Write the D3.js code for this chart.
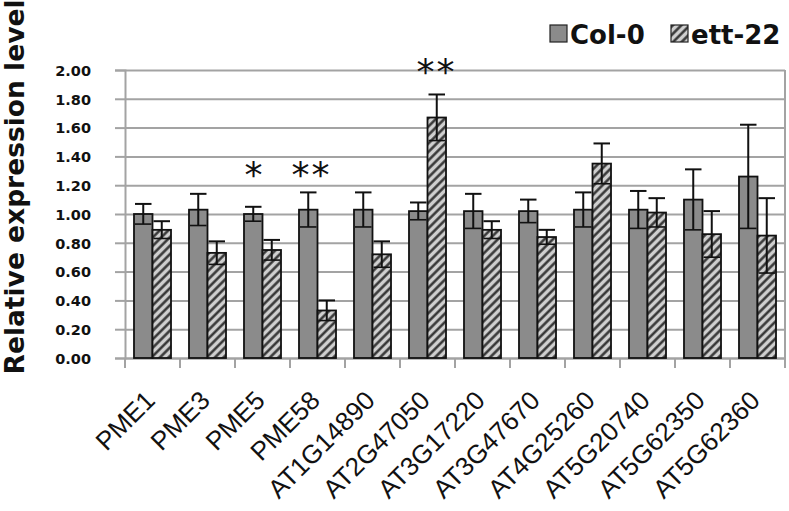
<!DOCTYPE html>
<html>
<head>
<meta charset="utf-8">
<script src="https://cdn.jsdelivr.net/npm/d3@7"></script>
<style>
  html, body { margin: 0; padding: 0; background: #fff; }
  svg { display: block; }
</style>
</head>
<body>
<div id="chart"></div>
<script>
// ---- data ----
const categories = ["PME1","PME3","PME5","PME58","AT1G14890","AT2G47050","AT3G17220","AT3G47670","AT4G25260","AT5G20740","AT5G62350","AT5G62360"];
const seriesNames = ["Col-0","ett-22"];
const col0Values = [1.00,1.03,1.00,1.03,1.03,1.02,1.02,1.02,1.03,1.03,1.10,1.26];
const col0Errors = [0.07,0.11,0.05,0.12,0.12,0.06,0.12,0.08,0.12,0.13,0.21,0.36];
const ett22Values = [0.89,0.73,0.75,0.33,0.72,1.67,0.89,0.84,1.35,1.01,0.86,0.85];
const ett22Errors = [0.06,0.08,0.07,0.07,0.09,0.16,0.06,0.05,0.14,0.10,0.16,0.26];
const yTicks = [0,0.2,0.4,0.6,0.8,1.0,1.2,1.4,1.6,1.8,2.0];
const sigCategories = ["PME5","PME58","AT2G47050"];
const sigMarks = ["*","**","**"];
const sigLevels = [1.33,1.33,2.05];
const yTitle = "Relative expression level";

// ---- layout ----
(function () {
const W = 789, H = 511;
const pLeft = 125, pRight = 785, pTop = 70, pBottom = 358;
const gridColor = "#a3a3a3";

const svg = d3.select("#chart").append("svg").attr("width", W).attr("height", H);

const defs = svg.append("defs");
const pat = defs.append("pattern").attr("id","hatch")
  .attr("patternUnits","userSpaceOnUse").attr("width",6).attr("height",6)
  .attr("patternTransform","rotate(45)");
pat.append("rect").attr("width",6).attr("height",6).attr("fill","#cfcfcf");
pat.append("line").attr("x1",1.5).attr("y1",0).attr("x2",1.5).attr("y2",6)
  .attr("stroke","#2e2e2e").attr("stroke-width",2.4);

const y = d3.scaleLinear().domain([0,2]).range([pBottom, pTop]);
const x0 = d3.scaleBand().domain(categories).range([pLeft, pRight]).paddingInner(0).paddingOuter(0);
const x1 = d3.scaleBand().domain(seriesNames).range([0, x0.bandwidth()]).paddingInner(0).paddingOuter(0.486);

// gridlines + y ticks
const yAxis = d3.axisLeft(y).tickValues(yTicks).tickSize(10).tickFormat(d3.format(".2f"));
const gAxis = svg.append("g").attr("transform", `translate(${pLeft},0)`).call(yAxis);
gAxis.select(".domain").attr("stroke", gridColor).attr("stroke-width", 2);
gAxis.selectAll(".tick line").attr("stroke", gridColor).attr("stroke-width", 2)
  .attr("x1", 0).attr("x2", -10);
gAxis.selectAll(".tick").append("line")
  .attr("x1", 0).attr("x2", pRight - pLeft).attr("stroke", gridColor).attr("stroke-width", 2);
gAxis.selectAll(".tick text")
  .attr("x", -34).attr("dy","0.36em")
  .style("font-family","'DejaVu Sans', sans-serif").style("font-weight","bold").style("font-size","14.5px")
  .attr("fill","#111");

// right border
svg.append("line").attr("x1", pRight).attr("x2", pRight).attr("y1", pTop).attr("y2", pBottom)
  .attr("stroke", gridColor).attr("stroke-width", 2);

// x axis ticks at band boundaries
const xAxis = d3.axisBottom(x0).tickSize(0).tickFormat("");
const gx = svg.append("g").attr("transform", `translate(0,${pBottom})`).call(xAxis);
gx.select(".domain").attr("stroke", gridColor).attr("stroke-width", 2);
const boundaries = categories.map(c => x0(c)).concat([x0(categories[categories.length-1]) + x0.bandwidth()]);
gx.selectAll(".bnd").data(boundaries).enter().append("line")
  .attr("x1", d => d).attr("x2", d => d).attr("y1", 0).attr("y2", 10)
  .attr("stroke", gridColor).attr("stroke-width", 2);

// bars
const rows = categories.map((c,i) => ({
  cat: c,
  vals: [
    {s: "Col-0", v: col0Values[i], e: col0Errors[i]},
    {s: "ett-22", v: ett22Values[i], e: ett22Errors[i]}
  ]
}));
const bw = x1.bandwidth();
const groups = svg.append("g").selectAll("g").data(rows).enter().append("g")
  .attr("transform", d => `translate(${x0(d.cat)},0)`);
const bars = groups.selectAll("g.b").data(d => d.vals).enter().append("g").attr("class","b");
bars.append("rect")
  .attr("x", d => x1(d.s)).attr("width", bw)
  .attr("y", d => y(d.v)).attr("height", d => y(0) - y(d.v))
  .attr("fill", d => d.s === "Col-0" ? "#8b8b8b" : "url(#hatch)")
  .attr("stroke", "#111").attr("stroke-width", 1.8);
// error bars
bars.append("line")
  .attr("x1", d => x1(d.s) + bw/2).attr("x2", d => x1(d.s) + bw/2)
  .attr("y1", d => y(d.v - d.e)).attr("y2", d => y(d.v + d.e))
  .attr("stroke", "#111").attr("stroke-width", 2);
bars.append("line")
  .attr("x1", d => x1(d.s) + 1).attr("x2", d => x1(d.s) + bw - 1)
  .attr("y1", d => y(d.v + d.e)).attr("y2", d => y(d.v + d.e))
  .attr("stroke", "#111").attr("stroke-width", 2);
bars.append("line")
  .attr("x1", d => x1(d.s) + 1).attr("x2", d => x1(d.s) + bw - 1)
  .attr("y1", d => y(d.v - d.e)).attr("y2", d => y(d.v - d.e))
  .attr("stroke", "#111").attr("stroke-width", 1.6);

// significance marks
const sigDx = [-9, -6, 9];
svg.append("g").selectAll("text").data(sigCategories).enter().append("text")
  .attr("x", (d,i) => x0(d) + x0.bandwidth()/2 + sigDx[i])
  .attr("y", (d,i) => y(sigLevels[i]) + 21)
  .attr("text-anchor","middle")
  .style("font-family","'DejaVu Sans', sans-serif").style("font-size","36px")
  .style("letter-spacing", (d,i) => sigMarks[i].length > 1 ? "2px" : "0px")
  .attr("fill","#111")
  .text((d,i) => sigMarks[i]);

// x labels
svg.append("g").selectAll("text").data(categories).enter().append("text")
  .attr("transform", d => `translate(${x0(d) + x0.bandwidth()/2 + 4},${pBottom + 44}) rotate(-45)`)
  .attr("text-anchor","end")
  .style("font-family","'Liberation Sans', Arial, sans-serif").style("font-size","26px")
  .attr("fill","#111")
  .text(d => d);

// y title
svg.append("text")
  .attr("transform", `translate(24,187) rotate(-90)`)
  .attr("text-anchor","middle")
  .style("font-family","'DejaVu Sans', sans-serif").style("font-weight","bold").style("font-size","26.5px")
  .attr("fill","#111")
  .text(yTitle);

// legend
const legX = [550, 671];
const lg = svg.append("g").selectAll("g").data(seriesNames).enter().append("g")
  .attr("transform", (d,i) => `translate(${legX[i]},25)`);
lg.append("rect").attr("width",17).attr("height",17)
  .attr("fill", d => d === "Col-0" ? "#8b8b8b" : "url(#hatch)")
  .attr("stroke","#222").attr("stroke-width",1.2);
lg.append("text").attr("x", 20).attr("y", 19)
  .style("font-family","'DejaVu Sans', sans-serif").style("font-weight","bold").style("font-size","26px")
  .attr("fill","#111")
  .text(d => d);
})();
</script>
</body>
</html>
